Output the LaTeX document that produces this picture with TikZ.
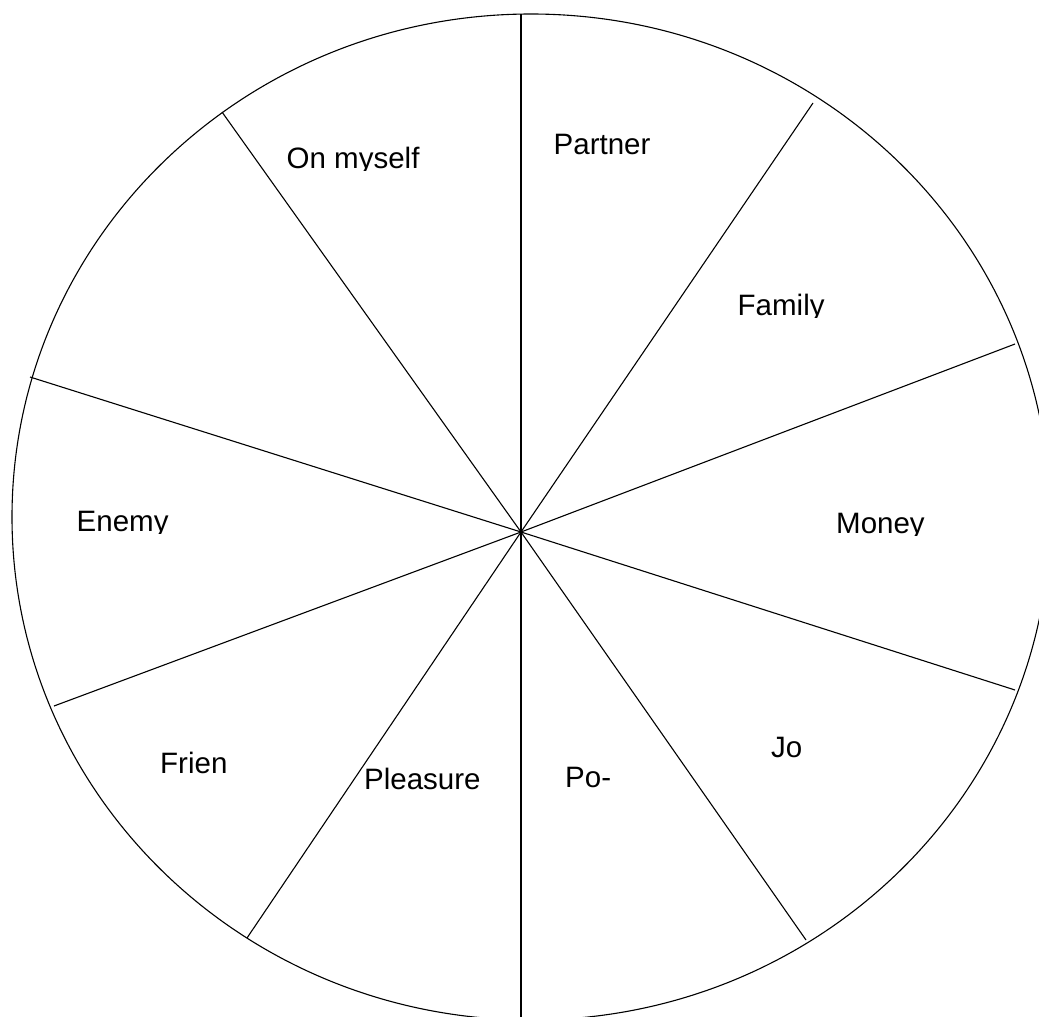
\documentclass[tikz,border=0pt]{standalone}
\usepackage{fontspec}
\setmainfont{Liberation Sans}
\newcommand\wheellabel[4]{%
  \begin{scope}
    \clip (#2-5,#3-40) rectangle (#2+220,#3+2.5);
    \node[lbl] (#1) at (#2,#3) {#4};
  \end{scope}}
\begin{document}
\begin{tikzpicture}[x=1pt,y=-1pt,
  spoke/.style={line width=1.1pt,black},
  rim/.style={line width=1.1pt,black},
  lbl/.style={anchor=base west,inner sep=0pt,font=\fontsize{29.5}{35}\selectfont}]
\useasboundingbox (0,0) rectangle (1039,1017);
\clip (0,0) rectangle (1039,1017);
\fill[white] (0,0) rectangle (1039,1017);
% rim
\draw[rim] (531,517) ellipse [x radius=519pt, y radius=503pt];
% hub and spoke ends
\coordinate (hub) at (521,532);
\coordinate (s1) at (521,14);
\coordinate (s2) at (813,103);
\coordinate (s3) at (1015,344);
\coordinate (s4) at (1015,690);
\coordinate (s5) at (806,940);
\coordinate (s6) at (521,1030);
\coordinate (s7) at (247,938);
\coordinate (s8) at (54,706);
\coordinate (s9) at (30,377);
\coordinate (s10) at (222,112);
\foreach \s in {s1,s2,s3,s4,s5,s6,s7,s8,s9,s10}
  \draw[spoke] (hub) -- (\s);
% labels
\wheellabel{lmyself}{286.5}{168}{On myself}
\wheellabel{lpartner}{553.5}{154}{Partner}
\wheellabel{lfamily}{737.5}{315}{Family}
\wheellabel{lmoney}{836}{533}{Money}
\wheellabel{ljo}{771}{757}{Jo}
\wheellabel{lpo}{565}{787}{Po-}
\wheellabel{lpleasure}{364}{789}{Pleasure}
\wheellabel{lfrien}{160}{773}{Frien}
\wheellabel{lenemy}{76.5}{531}{Enemy}
\end{tikzpicture}
\end{document}
